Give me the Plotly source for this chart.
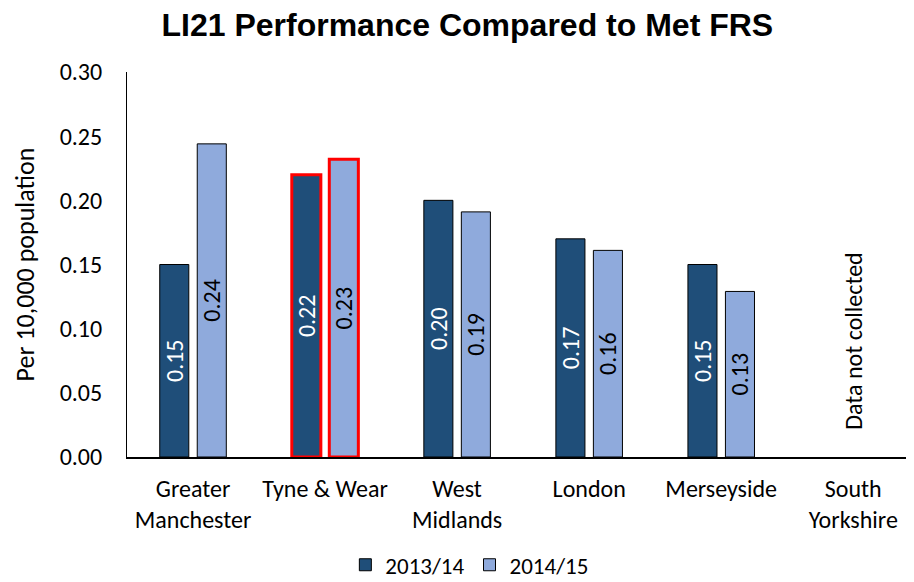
import plotly.graph_objects as go

categories = ["Greater<br>Manchester", "Tyne & Wear", "West<br>Midlands", "London", "Merseyside", "South<br>Yorkshire"]
series_names = ["2013/14", "2014/15"]
values_2013 = [0.15, 0.22, 0.20, 0.17, 0.15, None]
values_2014 = [0.244, 0.232, 0.191, 0.161, 0.129, None]
highlight = "Tyne & Wear"
note_text = "Data not collected"
note_category = "South<br>Yorkshire"
note_y = 0.09

dark = "#1F4E79"
light = "#8FAADC"
body_font = "Carlito, Lato, sans-serif"

def outline_colors():
    return ["#FF0000" if c == highlight else "#000000" for c in categories]

def outline_widths():
    return [3 if c == highlight else 1 for c in categories]

fig = go.Figure()
for name, vals, col, tcol in [(series_names[0], values_2013, dark, "white"),
                              (series_names[1], values_2014, light, "black")]:
    fig.add_trace(go.Bar(
        name=name, x=categories, y=vals,
        marker=dict(color=col, line=dict(color=outline_colors(), width=outline_widths())),
        texttemplate="%{y:.2f}", textposition="inside", insidetextanchor="middle",
        textangle=-90, textfont=dict(color=tcol, size=24, family=body_font),
        constraintext="none",
    ))

fig.add_annotation(x=note_category, y=note_y, text=note_text, textangle=-90,
                   showarrow=False, font=dict(size=24, color="black", family=body_font))

# page has an 8px body margin, so the figure is offset by 8px right/down
fig.update_layout(
    width=906, height=574,
    margin=dict(l=119, r=0, t=64, b=125, autoexpand=False),
    paper_bgcolor="white", plot_bgcolor="white",
    barmode="group", bargap=0.432, bargroupgap=0.225,
    title=dict(text="<b>LI21 Performance Compared to Met FRS</b>", x=0.507, xanchor="center",
               y=0.970, yanchor="middle",
               font=dict(family="Liberation Sans, Arial, sans-serif", size=32, color="black")),
    font=dict(family=body_font, size=24, color="black"),
    legend=dict(orientation="h", x=0.435, xanchor="center", y=-0.28, yanchor="middle",
                font=dict(size=23, family=body_font), traceorder="normal",
                itemwidth=30, bgcolor="rgba(0,0,0,0)"),
    showlegend=True,
)
fig.update_xaxes(range=[-0.5, 5.46], showline=True, linecolor="black", linewidth=1.5,
                 ticks="", tickfont=dict(size=24, family=body_font), showgrid=False,
                 automargin=False, ticklabelstandoff=9)
fig.update_yaxes(range=[0, 0.30], dtick=0.05, tickformat=".2f", showline=True,
                 linecolor="black", linewidth=1, showgrid=False, zeroline=False, ticks="",
                 tickfont=dict(size=24, family=body_font), automargin=False,
                 ticklabelstandoff=19,
                 title=dict(text="Per 10,000 population", font=dict(size=26, family=body_font), standoff=17))

fig.write_html("out.html")
